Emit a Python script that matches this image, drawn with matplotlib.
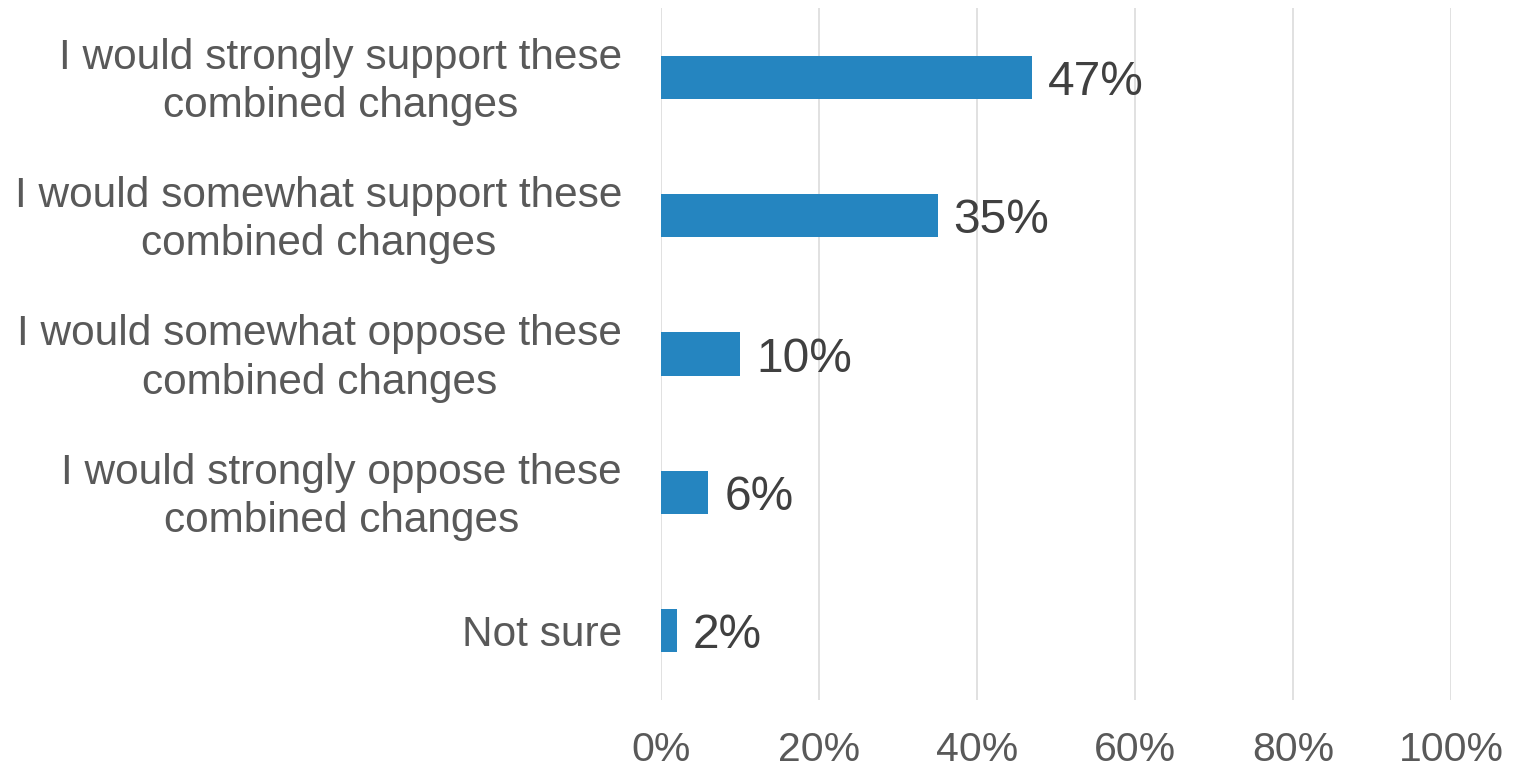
import matplotlib.pyplot as plt

categories = [
    'I would strongly support these\ncombined changes',
    'I would somewhat support these\ncombined changes',
    'I would somewhat oppose these\ncombined changes',
    'I would strongly oppose these\ncombined changes',
    'Not sure',
]
values = [47, 35, 10, 6, 2]
xticks = [0, 20, 40, 60, 80, 100]

plt.rcParams['font.family'] = ['Liberation Sans', 'DejaVu Sans']

fig = plt.figure(figsize=(15.14, 7.71), dpi=100)
ax = fig.add_axes([0.4366, 0.0921, 0.5218, 0.8975])

ypos = list(range(len(categories)))
ax.barh(ypos, values, height=0.313, color='#2585C0', zorder=3)

for y, v in zip(ypos, values):
    ax.annotate(f'{v}%', xy=(v, y), xytext=(11.5, 0), textcoords='offset points',
                va='center_baseline', ha='left', fontsize=34.5, color='#404040')

# category labels, centred lines, right edge a fixed gap left of the axis
for y, c in zip(ypos, categories):
    ax.annotate(c, xy=(0, y), xytext=(-28, -3.3), textcoords='offset points',
                ha='right', va='center', multialignment='center',
                fontsize=30.5, color='#595959', linespacing=1.27,
                annotation_clip=False)

ax.set_xlim(0, 100)
ax.set_ylim(len(categories) - 0.5, -0.5)
ax.set_xticks(xticks)
ax.set_xticklabels([f'{t}%' for t in xticks], fontsize=29.5, color='#595959')
ax.set_yticks([])

ax.tick_params(axis='x', length=0, pad=22)
ax.grid(axis='x', color='#D9D9D9', linewidth=1.1, zorder=0)
for s in ax.spines.values():
    s.set_visible(False)

fig.savefig('out.png', dpi=100)
